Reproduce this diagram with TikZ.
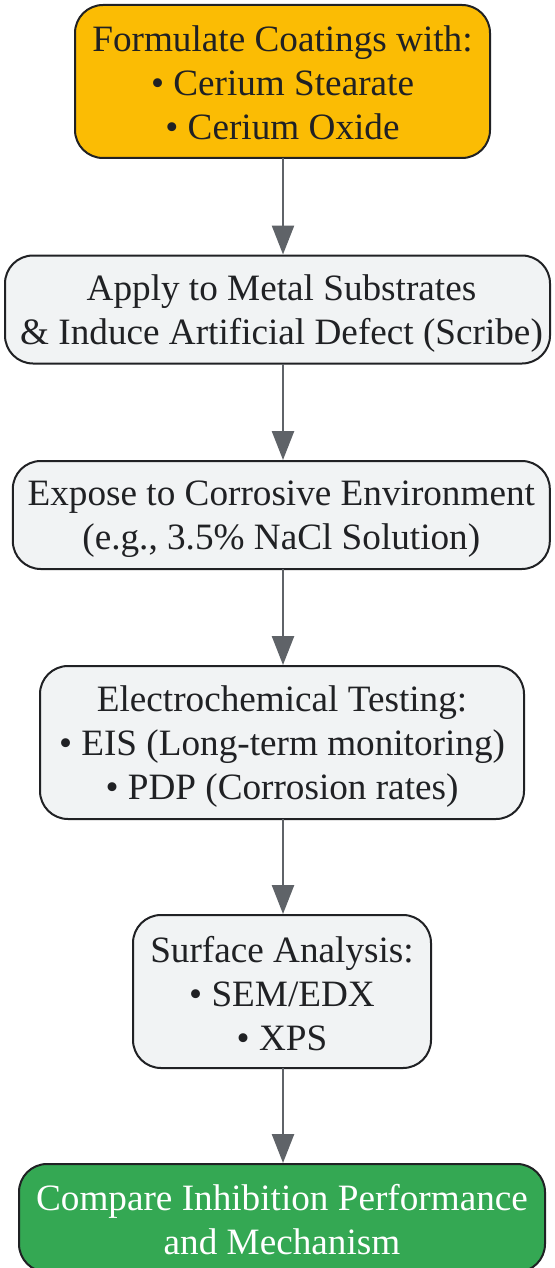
\documentclass[tikz,border=0pt]{standalone}
\usepackage{fontspec}
\setmainfont{Liberation Serif}
\usetikzlibrary{arrows.meta}
\definecolor{boxline}{HTML}{202124}
\definecolor{arrowgray}{HTML}{5F6368}
\definecolor{lightfill}{HTML}{F1F3F4}
\definecolor{yellowfill}{HTML}{FBBC04}
\definecolor{greenfill}{HTML}{34A853}
\definecolor{textdark}{HTML}{202124}
\newcommand\linestrut{\rule[-5pt]{0pt}{39pt}}
\newcommand\nudge{\hspace*{8pt}}
\tikzset{
  stepbox/.style={draw=boxline, line width=2pt, rounded corners=28pt, align=center,
    inner sep=0pt, text=textdark, font=\fontsize{37.2}{44}\selectfont},
  flowarrow/.style={draw=arrowgray, line width=2.5pt, -{Triangle[length=29pt,width=22pt]}}
}
\begin{document}
\begin{tikzpicture}[x=1pt,y=1pt]
\useasboundingbox (0,0) rectangle (554,-1268);
\fill[white] (0,0) rectangle (554,-1268);
\node[stepbox, fill=yellowfill, minimum width=415pt, minimum height=153pt] (n1) at (282.5,-81.5)
  {\linestrut Formulate Coatings with:\\ • Cerium Stearate\\ • Cerium Oxide\linestrut};
\node[stepbox, fill=lightfill, minimum width=545pt, minimum height=108pt] (n2) at (277.5,-309.5)
  {\nudge\linestrut Apply to Metal Substrates\\ \nudge\& Induce Artificial Defect (Scribe)\linestrut};
\node[stepbox, fill=lightfill, minimum width=537pt, minimum height=108pt] (n3) at (281.3,-515)
  {\linestrut Expose to Corrosive Environment\\ (e.g., 3.5\% NaCl Solution)\linestrut};
\node[stepbox, fill=lightfill, minimum width=484pt, minimum height=153pt] (n4) at (282,-742.5)
  {\linestrut Electrochemical Testing:\\ • EIS (Long-term monitoring)\\ • PDP (Corrosion rates)\linestrut};
\node[stepbox, fill=lightfill, minimum width=298pt, minimum height=153pt] (n5) at (282,-991.5)
  {\linestrut Surface Analysis:\\ • SEM/EDX\\ • XPS\linestrut};
\node[stepbox, fill=greenfill, text=white, minimum width=526pt, minimum height=108pt] (n6) at (282,-1218)
  {\linestrut Compare Inhibition Performance\\ and Mechanism\linestrut};
\coordinate (a1) at (283,-158);
\draw[flowarrow] (a1) -- (a1 |- n2.north);
\coordinate (a2) at (283,-364);
\draw[flowarrow] (a2) -- (a2 |- n3.north);
\coordinate (a3) at (283,-569);
\draw[flowarrow] (a3) -- (a3 |- n4.north);
\coordinate (a4) at (283,-819);
\draw[flowarrow] (a4) -- (a4 |- n5.north);
\coordinate (a5) at (283,-1068);
\draw[flowarrow] (a5) -- (a5 |- n6.north);
\end{tikzpicture}
\end{document}
